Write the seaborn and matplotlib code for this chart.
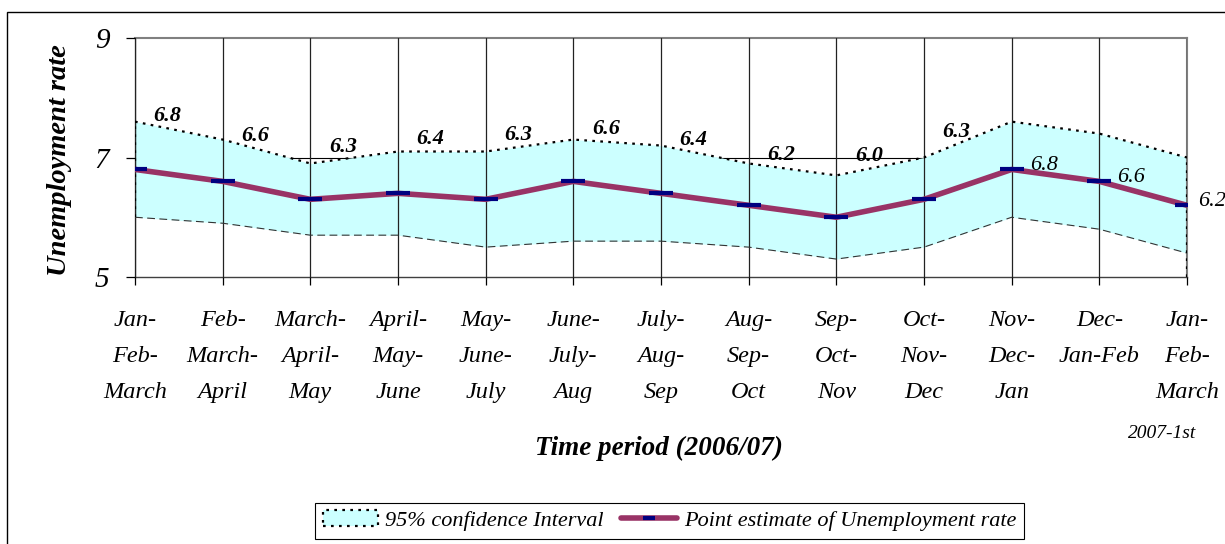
import pandas as pd
import matplotlib
matplotlib.use('Agg')
import matplotlib.pyplot as plt
from matplotlib.patches import Patch, Rectangle
from matplotlib.lines import Line2D
import seaborn as sns

# %%
# values
periods = ['Jan-\nFeb-\nMarch', 'Feb-\nMarch-\nApril', 'March-\nApril-\nMay', 'April-\nMay-\nJune',
           'May-\nJune-\nJuly', 'June-\nJuly-\nAug', 'July-\nAug-\nSep', 'Aug-\nSep-\nOct',
           'Sep-\nOct-\nNov', 'Oct-\nNov-\nDec', 'Nov-\nDec-\nJan', 'Dec-\nJan-Feb', 'Jan-\nFeb-\nMarch']
estimate = [6.8, 6.6, 6.3, 6.4, 6.3, 6.6, 6.4, 6.2, 6.0, 6.3, 6.8, 6.6, 6.2]
upper = [7.6, 7.3, 6.9, 7.1, 7.1, 7.3, 7.2, 6.9, 6.7, 7.0, 7.6, 7.4, 7.0]
lower = [6.0, 5.9, 5.7, 5.7, 5.5, 5.6, 5.6, 5.5, 5.3, 5.5, 6.0, 5.8, 5.4]
y_ticks = [5, 7, 9]
n_bold_labels = 10  # first labels sit above the band in bold

df = pd.DataFrame({'pos': range(len(periods)), 'estimate': estimate,
                   'upper': upper, 'lower': lower})

# %%
sns.set_theme(style='white')
plt.rcParams['font.family'] = ['Liberation Serif', 'DejaVu Serif']
plt.rcParams['text.color'] = 'black'
plt.rcParams['axes.labelcolor'] = 'black'
plt.rcParams['xtick.color'] = 'black'
plt.rcParams['ytick.color'] = 'black'

fig = plt.figure(figsize=(12.25, 5.44), dpi=100)
ax = fig.add_axes([135 / 1225, 1 - 277 / 544, 1052 / 1225, 239 / 544])

maroon = '#993366'
navy = '#000080'
cyan = '#CCFFFF'
dotted = (0, (1.2, 2.4))

# confidence band
ax.fill_between(df['pos'], df['lower'], df['upper'], color=cyan, lw=0, zorder=1)
sns.lineplot(data=df, x='pos', y='upper', color='black', lw=1.6, linestyle=dotted,
             errorbar=None, zorder=3, ax=ax)
sns.lineplot(data=df, x='pos', y='lower', color='#333333', lw=0.8, linestyle=(0, (7, 4)),
             errorbar=None, zorder=3, ax=ax)
ax.vlines(df['pos'].iloc[0], df['lower'].iloc[0], df['upper'].iloc[0], color='black',
          lw=1.6, linestyles=[dotted], zorder=3)
ax.vlines(df['pos'].iloc[-1], y_ticks[0], df['upper'].iloc[-1], color='black',
          lw=1.6, linestyles=[dotted], zorder=3)

# point estimate
sns.lineplot(data=df, x='pos', y='estimate', color=maroon, lw=4, marker='_', ms=17,
             mew=3, mec=navy, errorbar=None, zorder=4, ax=ax)

# grid
ax.axhline(y_ticks[1], color='black', lw=0.8, zorder=0.5)
ax.set_xticks(df['pos'])
ax.grid(axis='x', color='#222222', lw=0.9)
ax.grid(axis='y', visible=False)
ax.set_axisbelow(False)

ax.set_xlim(df['pos'].iloc[0], df['pos'].iloc[-1])
ax.set_ylim(y_ticks[0], y_ticks[-1])
ax.set_yticks(y_ticks, [str(t) for t in y_ticks], fontstyle='italic', fontsize=21)
ax.set_xticks(df['pos'], periods, fontstyle='italic', fontsize=17.5, linespacing=1.95)
ax.tick_params(axis='y', left=True, direction='out', length=6.5, width=0.9, color='black', pad=12)
ax.tick_params(axis='x', bottom=True, direction='out', length=6, width=0.9, color='black', pad=17.5)

for side in ['top', 'right']:
    ax.spines[side].set_color('#808080')
    ax.spines[side].set_linewidth(1.5)
ax.spines['left'].set_color('black')
ax.spines['left'].set_linewidth(0.9)
ax.spines['bottom'].set_color('#404040')
ax.spines['bottom'].set_linewidth(1.0)

ax.set_xlabel('')
ax.set_ylabel('Unemployment rate', fontsize=20.5, fontweight='bold', fontstyle='italic')
ax.yaxis.set_label_coords(-0.06, 0.49)

# data labels
for i in range(len(estimate)):
    if i < n_bold_labels:
        x = i + 0.37
        y = upper[i] + 0.37 * (upper[i + 1] - upper[i])
        ax.annotate(f'{estimate[i]:.1f}', (x, y), xytext=(0, 9), textcoords='offset points',
                    ha='center', va='center', fontsize=16, fontweight='bold',
                    fontstyle='italic', zorder=5)
    else:
        dx = 13 if i < len(estimate) - 1 else 8
        ax.annotate(f'{estimate[i]:.1f}', (i, estimate[i]), xytext=(dx, 3),
                    textcoords='offset points', ha='left', va='center', fontsize=16,
                    fontstyle='italic', annotation_clip=False, zorder=5)

fig.text(659 / 1225, 1 - 448 / 544, 'Time period (2006/07)', ha='center', va='center',
         fontsize=19.5, fontweight='bold', fontstyle='italic')
fig.text(1162 / 1225, 1 - 434 / 544, '2007-1st', ha='center', va='center',
         fontsize=14, fontstyle='italic')

# legend
handles = [Patch(facecolor=cyan, edgecolor='black', linestyle=dotted, lw=1.6),
           (Line2D([], [], color=maroon, lw=4),
            Line2D([], [], color=navy, marker='_', ms=9, mew=3, ls='none'))]
labels = ['95% confidence Interval', 'Point estimate of Unemployment rate']
leg = fig.legend(handles, labels, loc='center', bbox_to_anchor=(0.5465, 0.043), ncol=2,
                 frameon=True, fancybox=False, edgecolor='black', framealpha=1,
                 prop={'style': 'italic', 'size': 16}, handlelength=2.5,
                 handletextpad=0.3, columnspacing=0.8, borderpad=0.35)
leg.get_frame().set_linewidth(0.8)

# outer chart border
fig.patches.append(Rectangle((7 / 1225, -0.05), 1.1, 1.05 - 12 / 544, fill=False,
                             edgecolor='black', lw=1, transform=fig.transFigure))

fig.savefig('out.png', dpi=100)
